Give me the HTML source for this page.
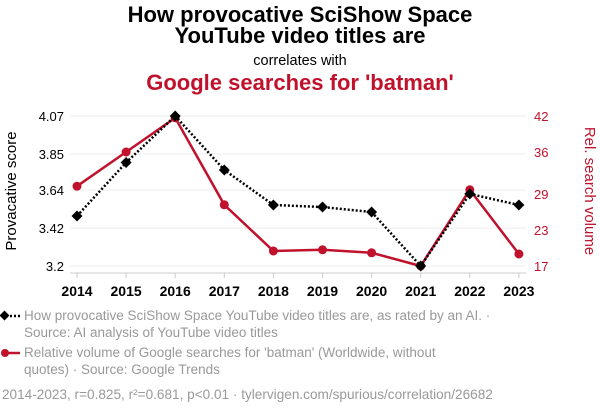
<!DOCTYPE html>
<html><head><meta charset="utf-8"><style>
body{margin:0;background:#fff;font-family:"Liberation Sans",sans-serif}
svg text{font-family:"Liberation Sans",sans-serif}
</style></head><body>
<svg id="c" width="600" height="414">
<text x="300" y="22" text-anchor="middle" font-size="22" font-weight="bold">How provocative SciShow Space</text>
<text x="300" y="43" text-anchor="middle" font-size="22" font-weight="bold">YouTube video titles are</text>
<text x="300" y="65" text-anchor="middle" font-size="14.5">correlates with</text>
<text x="300" y="90" text-anchor="middle" font-size="22" font-weight="bold" fill="#c0122c">Google searches for 'batman'</text>
<text transform="translate(16,191) rotate(-90)" text-anchor="middle" font-size="15">Provacative score</text>
<text transform="translate(585,191) rotate(90)" text-anchor="middle" font-size="15" fill="#c0122c">Rel. search volume</text>
<g id="grid"></g><g id="axes"></g><g id="marks"></g>
<line x1="2" y1="316" x2="20" y2="316" stroke="#000" stroke-width="2.5" stroke-dasharray="2,2"/>
<rect x="1" y="312" width="7" height="7" transform="rotate(45 4.5 315.5)" fill="#000"/>
<text x="24" y="320" font-size="13.5" fill="#999">How provocative SciShow Space YouTube video titles are, as rated by an AI. ·</text>
<text x="24" y="337" font-size="13.5" fill="#999">Source: AI analysis of YouTube video titles</text>
<line x1="2" y1="353" x2="20" y2="353" stroke="#c0122c" stroke-width="2.5"/>
<circle cx="5" cy="353" r="4" fill="#c0122c"/>
<text x="24" y="357" font-size="13.5" fill="#999">Relative volume of Google searches for 'batman' (Worldwide, without</text>
<text x="24" y="374" font-size="13.5" fill="#999">quotes) · Source: Google Trends</text>
<text x="2" y="399" font-size="13.6" fill="#999">2014-2023, r=0.825, r²=0.681, p&lt;0.01 · tylervigen.com/spurious/correlation/26682</text>
</svg>
<script>
const years=[2014,2015,2016,2017,2018,2019,2020,2021,2022,2023];
const scoreValues=[3.49,3.80,4.07,3.757,3.554,3.542,3.513,3.2,3.618,3.554];
const searchValues=[30.3,36,41.7,27.2,19.5,19.7,19.2,17,29.7,19];
const leftTicks=[3.2,3.42,3.64,3.85,4.07];
const rightTicks=[17,23,29,36,42];
const NS="http://www.w3.org/2000/svg";
const X=i=>77+i*49.1;
const YL=v=>266-(v-3.2)/(4.07-3.2)*150;
const YR=v=>266-(v-17)/(42-17)*150;
function mk(t,a,p){const e=document.createElementNS(NS,t);for(const k in a)e.setAttribute(k,a[k]);document.getElementById(p).appendChild(e);return e;}
leftTicks.forEach((v,i)=>{
 const g=mk('line',{x1:70,x2:526,y1:YL(v),y2:YL(v),stroke:'#eee','stroke-width':1},'grid');
 
 
 const t=mk('text',{x:64,y:YL(v)+5,'text-anchor':'end','font-size':13},'axes');t.textContent=v;
 
 
});
rightTicks.forEach(v=>{
 const t=mk('text',{x:534,y:YR(v)+5,'font-size':13,fill:'#c0122c'},'axes');t.textContent=v;
 
 
});
const ax=mk('line',{x1:70,x2:526,y1:273,y2:273,stroke:'#ccc'},'axes');


years.forEach((y,i)=>{
 const tk=mk('line',{x1:X(i),x2:X(i),y1:273,y2:278,stroke:'#ccc'},'axes');
 
 
 const t=mk('text',{x:X(i),y:296,'text-anchor':'middle','font-size':14,'font-weight':'bold'},'axes');t.textContent=y;
 
 
});
const rl=mk('polyline',{points:searchValues.map((v,i)=>X(i)+','+YR(v)).join(' '),fill:'none',stroke:'#c0122c','stroke-width':2.5},'marks');


searchValues.forEach((v,i)=>{
 const c=mk('circle',{cx:X(i),cy:YR(v),r:4.5,fill:'#c0122c'},'marks');
 
 
});
const bl=mk('polyline',{points:scoreValues.map((v,i)=>X(i)+','+YL(v)).join(' '),fill:'none',stroke:'#000','stroke-width':2.5,'stroke-dasharray':'2,2'},'marks');


scoreValues.forEach((v,i)=>{
 const x=X(i),y=YL(v);
 const d=mk('polygon',{points:`${x},${y-5.5} ${x+5.5},${y} ${x},${y+5.5} ${x-5.5},${y}`,fill:'#000'},'marks');
 
 
});
</script>
</body></html>
